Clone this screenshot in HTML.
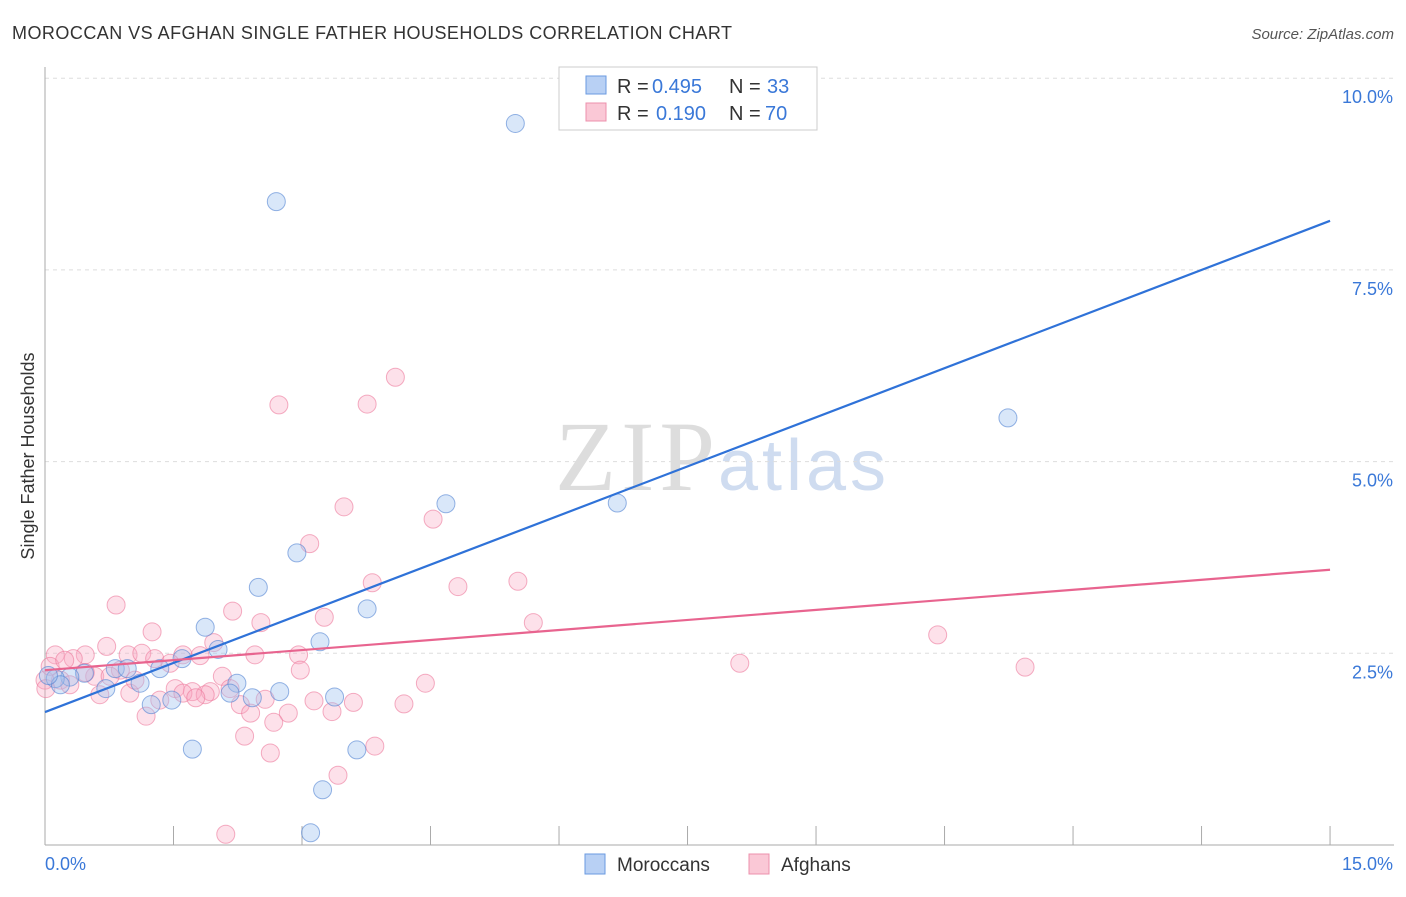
<!DOCTYPE html>
<html><head><meta charset="utf-8"><style>
body{margin:0;background:#fff;font-family:"Liberation Sans",sans-serif;}
</style></head><body>
<svg id="chart" width="1406" height="892" xmlns="http://www.w3.org/2000/svg">
<text x="12" y="39" font-size="18" fill="#333" textLength="720">MOROCCAN VS AFGHAN SINGLE FATHER HOUSEHOLDS CORRELATION CHART</text>
<text x="1394" y="39" font-size="15" fill="#555" font-style="italic" text-anchor="end">Source: ZipAtlas.com</text>
<text x="555" y="490" font-size="100" fill="#ddd" textLength="160" font-family="Liberation Serif,serif">ZIP</text>
<text x="718" y="490" font-size="72" fill="#cfdcf0" textLength="168">atlas</text>
<g id="grid"></g><g id="marks"></g>
<text transform="translate(34,456) rotate(-90)" font-size="18" fill="#333" text-anchor="middle">Single Father Households</text>
<g>
<rect x="559" y="67" width="258" height="63" fill="#fff" stroke="#ccc"/>
<rect x="586" y="76" width="20" height="18" fill="#b8d0f4" stroke="#6a9ae0"/>
<rect x="586" y="103" width="20" height="18" fill="#fac8d6" stroke="#ec90ac"/>
<text x="617" y="93" font-size="20" fill="#333">R =</text><text x="652" y="93" font-size="20" fill="#3a78d8">0.495</text>
<text x="729" y="93" font-size="20" fill="#333">N =</text><text x="767" y="93" font-size="20" fill="#3a78d8">33</text>
<text x="617" y="120" font-size="20" fill="#333">R =</text><text x="656" y="120" font-size="20" fill="#3a78d8">0.190</text>
<text x="729" y="120" font-size="20" fill="#333">N =</text><text x="765" y="120" font-size="20" fill="#3a78d8">70</text>
</g>
<g>
<rect x="585" y="854" width="20" height="20" fill="#b8d0f4" stroke="#6a9ae0"/>
<text x="617" y="871" font-size="19" fill="#333">Moroccans</text>
<rect x="749" y="854" width="20" height="20" fill="#fac8d6" stroke="#ec90ac"/>
<text x="781" y="871" font-size="19" fill="#333">Afghans</text>
</g>
</svg>
<script>
const yTicks=[2.5,5.0,7.5,10.0];
const xLabels=["0.0%","15.0%"];
const moroccoX=[5.49,2.70,11.24,4.68,6.68,2.94,2.49,3.76,1.87,3.21,2.02,1.60,1.34,0.82,0.96,0.46,0.29,0.12,0.18,1.11,0.71,2.24,2.16,2.74,2.42,3.38,1.24,1.48,1.72,3.64,3.24,3.10,0.04];
const moroccoY=[9.41,8.39,5.57,4.45,4.46,3.81,3.36,3.08,2.84,2.65,2.55,2.43,2.30,2.30,2.30,2.24,2.19,2.17,2.09,2.11,2.04,2.11,1.98,2.00,1.92,1.93,1.83,1.89,1.25,1.24,0.72,0.16,2.21];
const afghanX=[4.09,2.73,3.76,3.49,4.53,3.09,5.52,3.82,4.82,0.83,2.19,3.26,2.52,5.70,1.25,10.42,1.97,0.72,0.12,0.47,0.33,0.97,1.13,1.28,1.61,1.81,2.45,2.96,1.46,8.11,11.44,0.58,2.07,0.18,0.0,0.29,0.01,1.52,1.72,2.16,1.93,0.99,0.64,4.44,2.57,1.87,1.61,1.34,2.28,3.14,3.60,1.76,4.19,2.84,3.35,1.18,2.40,2.67,2.33,3.85,2.63,3.42,2.11,0.88,0.47,1.05,0.06,0.76,2.98,0.23];
const afghanY=[6.1,5.74,5.75,4.41,4.25,3.93,3.44,3.42,3.37,3.13,3.05,2.97,2.90,2.90,2.78,2.74,2.64,2.59,2.48,2.48,2.43,2.48,2.50,2.43,2.48,2.47,2.48,2.48,2.37,2.37,2.32,2.20,2.20,2.15,2.15,2.09,2.04,2.04,2.00,2.04,2.00,1.98,1.96,2.11,1.90,1.96,1.98,1.89,1.83,1.88,1.86,1.92,1.84,1.72,1.74,1.68,1.72,1.60,1.42,1.29,1.20,0.91,0.14,2.28,2.25,2.15,2.33,2.20,2.28,2.41];
const blueLine=[1.734,8.14], pinkLine=[2.28,3.59];
const X=v=>45+v*85.67, Y=v=>845-v*76.68;
const NS="http://www.w3.org/2000/svg";
const grid=document.getElementById('grid'), marks=document.getElementById('marks');
function mk(t,a,p){const e=document.createElementNS(NS,t);for(const k in a)e.setAttribute(k,a[k]);p.appendChild(e);return e;}
yTicks.forEach(t=>{
 const l=mk('line',{x1:45,x2:1394,y1:Y(t),y2:Y(t),stroke:'#ddd','stroke-dasharray':'4,4'},grid);
 
 
 const tx=mk('text',{x:1393,y:Y(t)+25,'font-size':18,fill:'#3a78d8','text-anchor':'end'},grid);
 tx.textContent=t.toFixed(1)+'%';
 
 
});
mk('line',{x1:45,x2:45,y1:67,y2:845,stroke:'#aaa'},grid);
mk('line',{x1:45,x2:1394,y1:845,y2:845,stroke:'#aaa'},grid);
for(let i=1;i<=10;i++){const t=mk('line',{x1:X(i*1.5),x2:X(i*1.5),y1:826,y2:845,stroke:'#aaa'},grid);
 
 }
xLabels.forEach((s,i)=>{const t=mk('text',{x:i?1393:45,y:870,'font-size':18,fill:'#3a78d8','text-anchor':i?'end':'start'},grid);t.textContent=s;
 
 });
afghanX.forEach((x,i)=>{const c=mk('circle',{cx:X(x),cy:Y(afghanY[i]),r:9,fill:'rgba(248,170,195,0.35)',stroke:'rgba(236,120,155,0.6)'},marks);
 
 });
moroccoX.forEach((x,i)=>{const c=mk('circle',{cx:X(x),cy:Y(moroccoY[i]),r:9,fill:'rgba(160,195,240,0.4)',stroke:'rgba(80,130,210,0.6)'},marks);
 
 });
const bl=mk('line',{x1:X(0),y1:Y(blueLine[0]),x2:X(15),y2:Y(blueLine[1]),stroke:'#2f72d8','stroke-width':2.2},marks);


const pl=mk('line',{x1:X(0),y1:Y(pinkLine[0]),x2:X(15),y2:Y(pinkLine[1]),stroke:'#e8648f','stroke-width':2.2},marks);


</script>
</body></html>
